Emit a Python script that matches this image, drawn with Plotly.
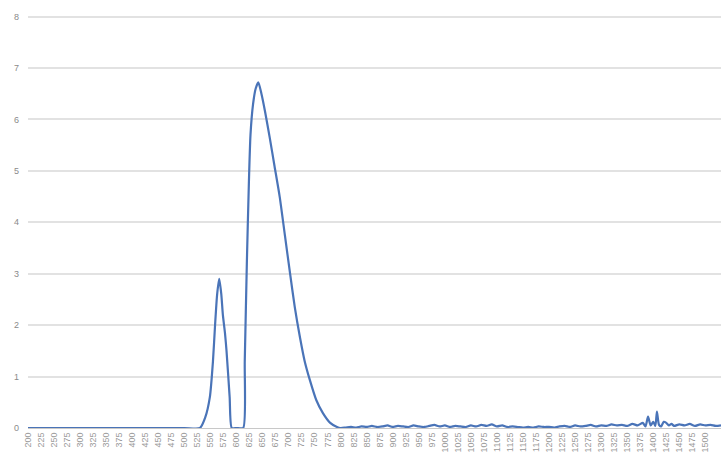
import plotly.graph_objects as go

wavelength = [200, 300, 400, 500, 530, 540, 549, 555, 559, 563, 567, 571, 574, 578, 581, 587, 591,
              600, 613, 616, 620, 624, 627, 632, 637, 642, 648, 655, 664, 673, 683, 693, 703,
              712, 722, 731, 741, 753, 766, 780, 793, 800,
              810, 820, 830, 840, 850, 860, 870, 880, 890, 900, 910, 920, 930, 940, 950, 960,
              970, 980, 990, 1000, 1010, 1020, 1030, 1040, 1050, 1060, 1070, 1080, 1090, 1100,
              1110, 1120, 1130, 1140, 1150, 1160, 1170, 1180, 1190, 1200, 1210, 1220, 1230,
              1240, 1250, 1260, 1270, 1280, 1290, 1300, 1310, 1320, 1330, 1340, 1350, 1360,
              1370, 1380, 1385, 1390, 1395, 1400, 1404, 1407, 1411, 1415, 1420, 1425, 1430,
              1435, 1440, 1450, 1460, 1470, 1480, 1490, 1500, 1510, 1520, 1530]
signal = [0, 0, 0, 0, 0, 0.2, 0.6, 1.3, 2.0, 2.6, 2.9, 2.6, 2.2, 1.85, 1.5, 0.6, 0,
          0, 0, 1.3, 3.2, 4.8, 5.7, 6.3, 6.6, 6.72, 6.5, 6.15, 5.64, 5.1, 4.5, 3.75, 3.0,
          2.35, 1.76, 1.3, 0.93, 0.55, 0.29, 0.1, 0.02, 0,
          0.01, 0.02, 0.01, 0.03, 0.02, 0.04, 0.02, 0.03, 0.05, 0.02, 0.04, 0.03, 0.02, 0.05, 0.03, 0.02,
          0.04, 0.06, 0.03, 0.05, 0.02, 0.04, 0.03, 0.02, 0.05, 0.03, 0.06, 0.04, 0.07, 0.03,
          0.05, 0.02, 0.03, 0.02, 0.01, 0.02, 0.01, 0.03, 0.02, 0.02, 0.01, 0.03, 0.04,
          0.02, 0.05, 0.03, 0.04, 0.06, 0.03, 0.05, 0.04, 0.07, 0.05, 0.06, 0.04, 0.08,
          0.05, 0.10, 0.03, 0.22, 0.05, 0.12, 0.04, 0.32, 0.06, 0.03, 0.12, 0.10, 0.05,
          0.08, 0.04, 0.07, 0.05, 0.08, 0.04, 0.07, 0.05, 0.06, 0.04, 0.05]

tick_values = list(range(200, 1526, 25))
tick_labels = [str(v) for v in tick_values]

fig = go.Figure()
fig.add_trace(go.Scatter(
    x=wavelength, y=signal, mode="lines",
    line=dict(color="#4a74b8", width=2.2, shape="spline", smoothing=0.6),
    showlegend=False,
))

fig.update_layout(
    width=721, height=466,
    margin=dict(l=28, r=0, t=15, b=38),
    paper_bgcolor="white", plot_bgcolor="white",
    font=dict(family="Liberation Sans, Arial, sans-serif", color="#8a8a8a"),
)
fig.update_xaxes(
    range=[200, 1530],
    tickmode="array", tickvals=tick_values, ticktext=tick_labels,
    tickangle=-90, tickfont=dict(size=9, color="#9a9a9a"),
    showgrid=False, zeroline=False,
    showline=True, linecolor="#c8c8c8", linewidth=1,
    ticks="", automargin=False,
)
fig.update_yaxes(
    range=[0, 8.03], tickvals=[0, 1, 2, 3, 4, 5, 6, 7, 8],
    tickfont=dict(size=9, color="#8a8a8a"),
    showgrid=True, gridcolor="#e2e2e2", gridwidth=1.5,
    zeroline=False, showline=False, ticks="", automargin=False,
    ticklabelstandoff=8,
)

fig.write_html("out.html", config={"displayModeBar": False},
               post_script="document.body.style.margin='0';")
